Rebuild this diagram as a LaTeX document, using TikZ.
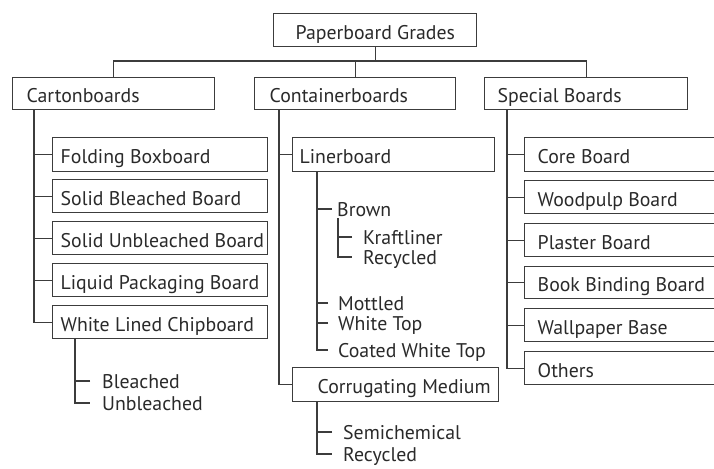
\documentclass[tikz,border=0pt]{standalone}
\usepackage{fontspec}
\setmainfont{PT Sans}
\definecolor{ink}{HTML}{2A2A2A}
\definecolor{ln}{HTML}{3C3C3C}
\newcommand\bx[7]{%
 \pgfmathsetmacro\bxw{#4-#2-2*#6}%
 \pgfmathsetmacro\bxh{#5-#3}%
 \node[box,inner xsep=#6pt,minimum height=\bxh pt] (#1) at (#2,#3) {\makebox[\bxw pt][l]{#7}};}
\begin{document}
\begin{tikzpicture}[x=1pt,y=-1pt,
 txt/.style={text=ink,font=\fontsize{19.8}{22}\selectfont},
 box/.style={txt,draw=ln,line width=1.4pt,inner ysep=0pt,text height=19pt,text depth=1pt,anchor=north west},
 item/.style={txt,inner ysep=0pt,text height=16pt,text depth=2pt,anchor=west,inner xsep=10pt},
 conn/.style={draw=ln,line width=1.2pt}]
\clip (0,0) rectangle (714,468);
\fill[white] (0,0) rectangle (714,468);
% boxes
\bx{root}{273}{13}{476}{46}{22}{Paperboard Grades}
\bx{carton}{12}{77}{214}{109}{14}{Cartonboards}
\bx{container}{254}{77}{455}{109}{15}{Containerboards}
\bx{special}{484}{77}{687}{109}{13}{Special Boards}
\bx{fold}{52}{137}{267}{171}{8}{Folding Boxboard}
\bx{sbb}{52}{179}{267}{212}{8}{Solid Bleached Board}
\bx{sub}{52}{221}{267}{254}{8}{Solid Unbleached Board}
\bx{lpb}{52}{263}{267}{296}{8}{Liquid Packaging Board}
\bx{wlc}{52}{305}{267}{338}{8}{White Lined Chipboard}
\bx{liner}{292}{137}{494}{171}{7}{Linerboard}
\bx{corr}{292}{367}{498}{401}{25}{Corrugating Medium}
\bx{core}{524}{137}{740}{171}{13}{Core Board}
\bx{wood}{524}{180}{740}{213}{13}{Woodpulp Board}
\bx{plas}{524}{223}{740}{256}{13}{Plaster Board}
\bx{book}{524}{266}{740}{298}{13}{Book Binding Board}
\bx{wall}{524}{308}{740}{341}{13}{Wallpaper Base}
\bx{oth}{524}{351}{740}{384}{13}{Others}
% items
\node[item,inner xsep=12pt] (bl) at (90,381) {Bleached};
\node[item,inner xsep=12pt] (ubl) at (90,403) {Unbleached};
\node[item,inner xsep=5pt] (brown) at (332,209) {Brown};
\node[item,inner xsep=11pt] (kraft) at (352,237) {Kraftliner};
\node[item,inner xsep=11pt] (rec1) at (352,257) {Recycled};
\node[item] (mott) at (328,303) {Mottled};
\node[item] (wtop) at (328,323) {White Top};
\node[item] (cwt) at (328,350) {Coated White Top};
\node[item,inner xsep=11pt] (semi) at (332,432) {Semichemical};
\node[item,inner xsep=11pt] (rec2) at (332,454) {Recycled};
% connectors
\draw[conn] (root.south) -- ++(0,15);
\draw[conn] (carton.north) -- ++(0,-16) -| (special.north);
\draw[conn] (container.north) -- ++(0,-16);
\draw[conn] ([xshift=22pt]carton.south west) |- (wlc.west);
\foreach \n in {fold,sbb,sub,lpb} \draw[conn] (\n.west) -- ++(-18,0);
\draw[conn] ([xshift=23pt]wlc.south west) |- (ubl.west);
\draw[conn] (bl.west) -- ++(-15,0);
\draw[conn] ([xshift=25pt]container.south west) |- (corr.west);
\draw[conn] (liner.west) -- ++(-13,0);
\draw[conn] ([xshift=25pt]liner.south west) |- (cwt.west);
\draw[conn] (brown.west) -- ++(-15,0);
\foreach \n in {mott,wtop} \draw[conn] (\n.west) -- ++(-11,0);
\draw[conn] ([xshift=6pt]brown.south west) |- (rec1.west);
\draw[conn] (kraft.west) -- ++(-14,0);
\draw[conn] ([xshift=25pt]corr.south west) |- (rec2.west);
\draw[conn] (semi.west) -- ++(-15,0);
\draw[conn] ([xshift=23pt]special.south west) |- (oth.west);
\foreach \n in {core,wood,plas,book,wall} \draw[conn] (\n.west) -- ++(-17,0);
\end{tikzpicture}
\end{document}
